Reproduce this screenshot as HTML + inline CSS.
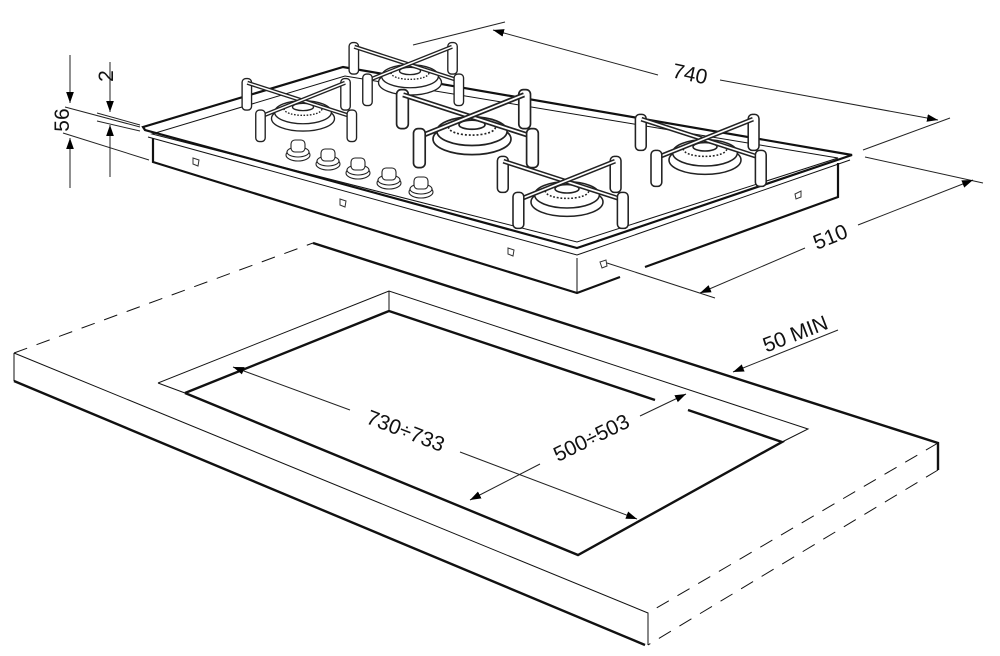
<!DOCTYPE html>
<html><head><meta charset="utf-8"><style>
html,body{margin:0;padding:0;background:#fff}
svg{display:block}
text{font-family:"Liberation Sans",Arial,sans-serif;fill:#111}
</style></head><body>
<svg width="1000" height="656" viewBox="0 0 1000 656" xmlns="http://www.w3.org/2000/svg">
<defs>
<marker id="a" viewBox="0 0 10 10" refX="10" refY="5" markerWidth="11" markerHeight="11" orient="auto-start-reverse" markerUnits="userSpaceOnUse"><path d="M0,1.5 L10,5 L0,8.5z" fill="#000"/></marker>
<g id="burner" fill="#fff" stroke="#222" stroke-width="1.3">
<ellipse cx="0" cy="10" rx="30" ry="12"/>
<ellipse cx="0" cy="4" rx="27" ry="11"/>
<ellipse cx="0" cy="1" rx="18" ry="6" stroke-dasharray="1.5 1.5"/>
<ellipse cx="0" cy="-1" rx="10" ry="3.5"/>
<rect x="-58" y="-28" width="9" height="30" rx="3.5"/>
<rect x="36" y="-28" width="9" height="30" rx="3.5"/>
<line x1="-53" y1="-24" x2="46" y2="8" stroke-width="4"/>
<line x1="-53" y1="-24" x2="46" y2="8" stroke="#fff" stroke-width="1.4"/>
<line x1="40" y1="-24" x2="-40" y2="8" stroke-width="4"/>
<line x1="40" y1="-24" x2="-40" y2="8" stroke="#fff" stroke-width="1.4"/>
<rect x="-45" y="2" width="9" height="30" rx="3.5"/>
<rect x="42" y="2" width="9" height="30" rx="3.5"/>
</g>
<g id="knob" fill="#fff" stroke="#222" stroke-width="1.1">
<ellipse cx="0" cy="7" rx="12" ry="6"/>
<ellipse cx="0" cy="4" rx="11" ry="5"/>
<rect x="-7" y="-8" width="14" height="12" rx="4"/>
</g>
</defs>

<g fill="none" stroke="#111">
<path d="M14,353 L648,613 L648,645 M14,353 L14,381" stroke-width="1"/>
<path d="M14,381 L645,645" stroke-width="2.4"/>
<path d="M14,353 L313,243" stroke-dasharray="14 10" stroke-width="1"/>
<path d="M313,243 L938,443 L938,470" stroke-width="2.4"/>
<path d="M938,443 L648,613 M938,470 L648,645" stroke-dasharray="14 10" stroke-width="1"/>
<path d="M158,383 L389,291 L808,429 L782,442 M389,291 L389,311 M158,383 L185,393" stroke-width="1"/>
<path d="M185,393 L389,311 L655,400 M688,410 L782,442 L578,555 L185,393" stroke-width="2.4"/>

<path d="M143,127 L343,67 L852,155 L577,248 L145,130 Z" stroke-width="2.2" fill="#fff"/>
<path d="M152,134 L345,76 L838,158 L577,242 Z" stroke-width="1"/>
<path d="M148,137 L577,255 L850,160" stroke-width="1"/>
<path d="M153,138 L153,162 L577,293 L620,277 M645,267 L838,197 L838,163" stroke-width="2.2"/>
<path d="M577,258 L577,293" stroke-width="1"/>
</g>

<use href="#burner" transform="translate(410,72) scale(1.05)"/>
<use href="#burner" transform="translate(303,108) scale(1.05)"/>
<use href="#burner" transform="translate(472,126) scale(1.3)"/>
<use href="#burner" transform="translate(705,148) scale(1.2)"/>
<use href="#burner" transform="translate(567,190) scale(1.2)"/>
<use href="#knob" transform="translate(298,148)"/>
<use href="#knob" transform="translate(328,157)"/>
<use href="#knob" transform="translate(358,166)"/>
<use href="#knob" transform="translate(389,176)"/>
<use href="#knob" transform="translate(421,185)"/>
<g fill="none" stroke="#333"><path d="M193,158 l6,2 l-1,6 l-5,-2z M340,199 l6,2 l-1,6 l-5,-2z M508,248 l6,2 l-1,6 l-5,-2z M600,262 l6,-2 l1,6 l-5,2z M795,194 l6,-3 l0,6 l-5,2z"/></g>

<g fill="none" stroke="#222" stroke-width="1">
<line x1="65" y1="107" x2="140" y2="127"/>
<line x1="97" y1="113" x2="140" y2="125"/>
<line x1="63" y1="133" x2="149" y2="160"/>
<line x1="97" y1="121" x2="140" y2="131"/>
<line x1="70" y1="55" x2="70" y2="103" marker-end="url(#a)"/>
<line x1="70" y1="188" x2="70" y2="138" marker-end="url(#a)"/>
<line x1="110" y1="62" x2="110" y2="112" marker-end="url(#a)"/>
<line x1="110" y1="177" x2="110" y2="125" marker-end="url(#a)"/>
<line x1="413" y1="45" x2="505" y2="22"/>
<line x1="863" y1="150" x2="950" y2="118"/>
<line x1="493" y1="30" x2="658" y2="75" marker-start="url(#a)"/>
<line x1="720" y1="80" x2="938" y2="120" marker-end="url(#a)"/>
<line x1="865" y1="157" x2="983" y2="183"/>
<line x1="607" y1="263" x2="715" y2="298"/>
<line x1="700" y1="293" x2="805" y2="248" marker-start="url(#a)"/>
<line x1="858" y1="225" x2="973" y2="180" marker-end="url(#a)"/>
<line x1="233" y1="367" x2="350" y2="410" marker-start="url(#a)"/>
<line x1="460" y1="452" x2="637" y2="519" marker-end="url(#a)"/>
<line x1="470" y1="500" x2="540" y2="464" marker-start="url(#a)"/>
<line x1="640" y1="416" x2="686" y2="394" marker-end="url(#a)"/>
<line x1="838" y1="330" x2="733" y2="372" marker-end="url(#a)"/>
</g>
<text x="690" y="81" font-size="21" text-anchor="middle" transform="rotate(12 690 74)">740</text>
<text x="830" y="244" font-size="21" text-anchor="middle" transform="rotate(-22 830 236)">510</text>
<text x="62" y="127" font-size="21" text-anchor="middle" transform="rotate(-90 62 120)">56</text>
<text x="106" y="83" font-size="21" text-anchor="middle" transform="rotate(-90 106 76)">2</text>
<text x="406" y="438" font-size="21" text-anchor="middle" transform="rotate(21 406 430)">730÷733</text>
<text x="591" y="445" font-size="21" text-anchor="middle" transform="rotate(-26 591 437)">500÷503</text>
<text x="795" y="341" font-size="21" text-anchor="middle" transform="rotate(-21 795 333)">50 MIN</text>
</svg>
</body></html>
